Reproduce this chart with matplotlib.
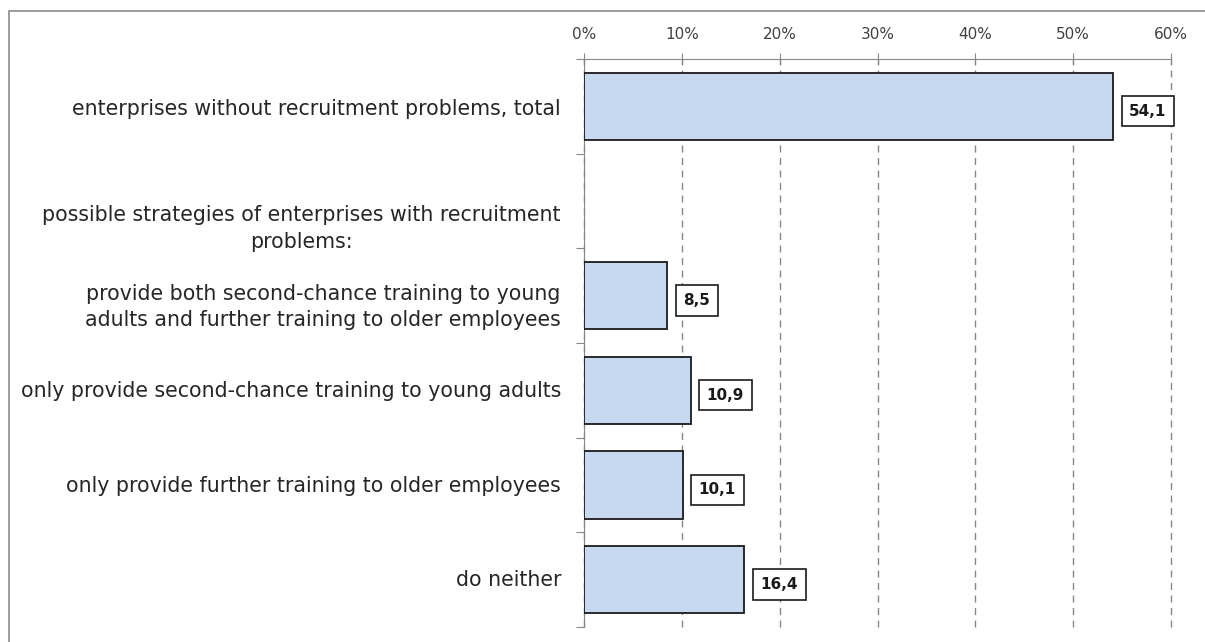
import matplotlib.pyplot as plt
import numpy as np
from matplotlib.patches import Rectangle
from matplotlib.ticker import FixedLocator, FuncFormatter

categories = [
    "enterprises without recruitment problems, total",
    "possible strategies of enterprises with recruitment\nproblems:",
    "provide both second-chance training to young\nadults and further training to older employees",
    "only provide second-chance training to young adults",
    "only provide further training to older employees",
    "do neither",
]
values = [54.1, np.nan, 8.5, 10.9, 10.1, 16.4]
value_labels = ["54,1", "", "8,5", "10,9", "10,1", "16,4"]
x_ticks = [0, 10, 20, 30, 40, 50, 60]

plt.rcParams["font.family"] = ["DejaVu Sans"]

W, H = 1205, 642
ax_l, ax_r, ax_t, ax_b = 584, 1171, 59, 627
# vertical nudge of category labels (in rows), as Excel places wrapped labels
label_shift = [0.03, 0.29, 0.12, 0.01, 0.01, 0.0]

fig = plt.figure(figsize=(W / 100, H / 100), dpi=100)
ax = fig.add_axes([ax_l / W, 1 - ax_b / H, (ax_r - ax_l) / W, (ax_b - ax_t) / H])

# outer chart frame (clipped on right/bottom as in the source)
fig.patches.append(Rectangle((9 / W, -0.05), 1.2, 1 - 11 / H + 0.05,
                             transform=fig.transFigure, fill=False,
                             edgecolor="#8c8c8c", linewidth=1.2))

y = np.arange(len(categories))
ax.barh(y, values, height=0.71, color="#c6d9f1", edgecolor="#1a1a1a", linewidth=1.3, zorder=3)

px_per_unit = (ax_r - ax_l) / 60.0
for yi, v, lab in zip(y, values, value_labels):
    if np.isnan(v):
        continue
    ax.text(v + 16 / px_per_unit, yi + 0.05, lab, va="center", ha="left", fontsize=11,
            fontweight="bold", color="#1a1a1a", zorder=4,
            bbox=dict(boxstyle="square,pad=0.5", facecolor="white", edgecolor="#1a1a1a",
                      linewidth=1.2))

ax.set_xlim(0, 60)
ax.set_ylim(len(categories) - 0.5, -0.5)
ax.xaxis.tick_top()
ax.set_xticks(x_ticks)
ax.xaxis.set_major_formatter(FuncFormatter(lambda v, _: f"{v:.0f}%"))
ax.tick_params(axis="x", direction="inout", length=8, color="#868686", labelsize=11,
               labelcolor="#404040", pad=8)
ax.grid(axis="x", color="#868686", linestyle=(0, (5, 4)), linewidth=1, zorder=0)
for gl in ax.get_xgridlines():
    gl.set_clip_on(False)

ax.yaxis.set_major_locator(FixedLocator(np.arange(len(categories) + 1) - 0.5))
ax.yaxis.set_major_formatter(FuncFormatter(lambda v, _: ""))
ax.tick_params(axis="y", direction="out", length=6, color="#868686")
for yi, cat, dy in zip(y, categories, label_shift):
    ax.text(-23 / (ax_r - ax_l), yi + dy, cat, transform=ax.get_yaxis_transform(), ha="right",
            va="center", fontsize=14.8, color="#262626", linespacing=1.4,
            multialignment="center")

for side in ["right", "bottom"]:
    ax.spines[side].set_visible(False)
ax.spines["top"].set_color("#868686")
ax.spines["left"].set_color("#868686")

fig.savefig("out.png", dpi=100)
